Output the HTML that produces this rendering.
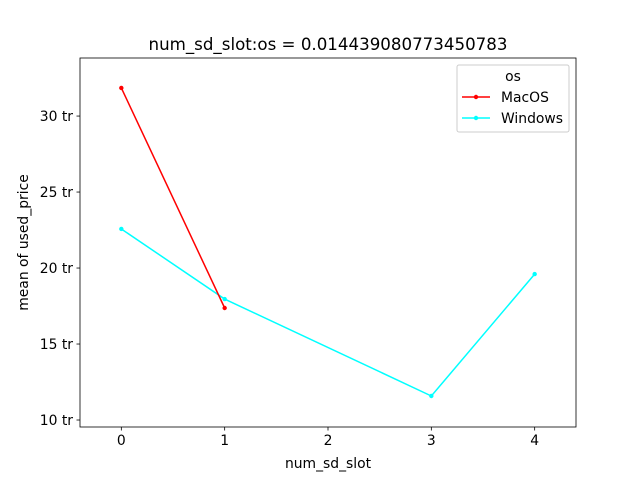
<!DOCTYPE html>
<html><head><meta charset="utf-8"><style>
body{margin:0;background:#fff;}
svg text{font-family:"DejaVu Sans","Liberation Sans",sans-serif;fill:#000;}
</style></head><body>
<svg id="chart" width="640" height="480" viewBox="0 0 640 480">
<rect x="0" y="0" width="640" height="480" fill="#fff"/>
<text x="328" y="50" font-size="16.67" text-anchor="middle">num_sd_slot:os = 0.014439080773450783</text>
<g id="plot"></g>
<rect x="80" y="58" width="496" height="369" fill="none" stroke="#000" stroke-width="0.8"/>
<text x="328" y="468" font-size="13.9" text-anchor="middle">num_sd_slot</text>
<text transform="translate(28,242.5) rotate(-90)" font-size="13.9" text-anchor="middle">mean of used_price</text>
<g>
<rect x="457" y="65" width="112" height="67" rx="2" fill="#fff" fill-opacity="0.8" stroke="#ccc" stroke-width="1"/>
<text x="513" y="81" font-size="13.9" text-anchor="middle">os</text>
<g>
<line x1="462" y1="97" x2="490" y2="97" stroke="#ff0000" stroke-width="1.5"/><circle cx="476" cy="97" r="2.2" fill="#ff0000"/>
<text x="501" y="102" font-size="13.9">MacOS</text></g>
<g>
<line x1="462" y1="118" x2="490" y2="118" stroke="#00ffff" stroke-width="1.5"/><circle cx="476" cy="118" r="2.2" fill="#00ffff"/>
<text x="501" y="123" font-size="13.9">Windows</text></g>
</g>
</svg>
<script>
const xTicks=[0,1,2,3,4];
const yTicks=[10,15,20,25,30];
const macX=[0,1];
const macY=[31.85,17.37];
const winX=[0,1,3,4];
const winY=[22.57,17.96,11.58,19.6];
const NS="http://www.w3.org/2000/svg";
const L=80,R=576,T=58,B=427,xmin=-0.4,xmax=4.4,ymin=9.54,ymax=33.82;
const sx=v=>L+(v-xmin)/(xmax-xmin)*(R-L);
const sy=v=>B-(v-ymin)/(ymax-ymin)*(B-T);
const g=document.getElementById('plot');
function mk(t,a){const e=document.createElementNS(NS,t);for(const k in a)e.setAttribute(k,a[k]);g.appendChild(e);return e;}
xTicks.forEach(v=>{
const l=mk('line',{x1:sx(v),x2:sx(v),y1:B,y2:B+3.5,stroke:'#000','stroke-width':0.8});


const t=mk('text',{x:sx(v),y:B+18,'font-size':13.9,'text-anchor':'middle'});t.textContent=v;


});
yTicks.forEach(v=>{
const l=mk('line',{x1:L-3.5,x2:L,y1:sy(v),y2:sy(v),stroke:'#000','stroke-width':0.8});


const t=mk('text',{x:L-7,y:sy(v)+5,'font-size':13.9,'text-anchor':'end'});t.textContent=v+' tr';


});
function series(xs,ys,c,name){
const p=mk('polyline',{points:xs.map((x,i)=>sx(x)+','+sy(ys[i])).join(' '),fill:'none',stroke:c,'stroke-width':1.5});


xs.forEach((x,i)=>{const d=mk('circle',{cx:sx(x),cy:sy(ys[i]),r:2.2,fill:c});

});
}
series(winX,winY,'#00ffff','windows');
series(macX,macY,'#ff0000','macos');
</script>
</body></html>
